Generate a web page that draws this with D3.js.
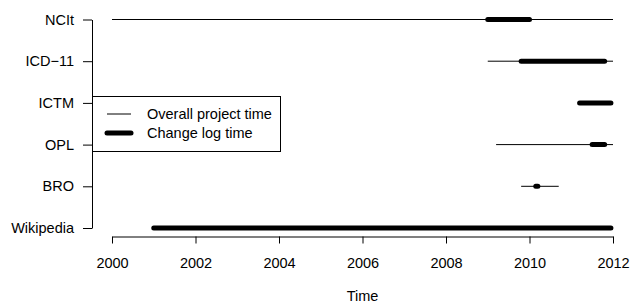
<!DOCTYPE html>
<html>
<head>
<meta charset="utf-8">
<script src="https://cdn.jsdelivr.net/npm/d3@7"></script>
<style>
  body { margin: 0; background: #fff; }
  svg { display: block; font-family: 'Liberation Sans', Arial, sans-serif; }
</style>
</head>
<body>
<svg width="631" height="305"></svg>
<script>
const width = 631
const height = 305
const fontSize = '14.5px'

// categories from top to bottom
const projects = ['NCIt', 'ICD\u221211', 'ICTM', 'OPL', 'BRO', 'Wikipedia']
// overall project time (start, end) in years
const overallStart = [2000, 2009.0, 2011.2, 2009.2, 2009.8, 2001.0]
const overallEnd = [2012, 2012, 2011.95, 2012, 2010.7, 2011.95]
// change log time (start, end)
const changeStart = [2009.0, 2009.8, 2011.2, 2011.5, 2010.15, 2001.0]
const changeEnd = [2010.0, 2011.8, 2011.95, 2011.8, 2010.2, 2011.95]
const xTicks = [2000, 2002, 2004, 2006, 2008, 2010, 2012]

const svg = d3.select('svg')

const x = d3.scaleLinear().domain([2000, 2012]).range([112, 613])
const y = d3.scalePoint().domain(projects).range([19.5, 228])

const rows = projects.map((name, i) => ({
  name,
  o0: overallStart[i],
  o1: overallEnd[i],
  c0: changeStart[i],
  c1: changeEnd[i],
}))

// thin lines: overall project time
svg
  .append('g')
  .selectAll('line')
  .data(rows)
  .enter()
  .append('line')
  .attr('x1', (d) => x(d.o0))
  .attr('x2', (d) => x(d.o1))
  .attr('y1', (d) => y(d.name))
  .attr('y2', (d) => y(d.name))
  .style('stroke', '#000')
  .style('stroke-width', 1)

// thick lines: change log time
svg
  .append('g')
  .selectAll('line')
  .data(rows)
  .enter()
  .append('line')
  .attr('x1', (d) => x(d.c0))
  .attr('x2', (d) => x(d.c1))
  .attr('y1', (d) => y(d.name))
  .attr('y2', (d) => y(d.name))
  .style('stroke', '#000')
  .style('stroke-width', 5)
  .style('stroke-linecap', 'round')

// x axis (R style)
svg
  .append('g')
  .attr('transform', 'translate(0,236.5)')
  .call(d3.axisBottom(x).tickValues(xTicks).tickFormat(d3.format('d')).tickSize(7).tickPadding(14.5).tickSizeOuter(0))
  .call((g) => g.selectAll('text').style('font-size', fontSize).style('fill', '#000'))
  .call((g) => g.selectAll('line, path').style('stroke', '#000'))
  .attr('font-family', null)

// y axis
svg
  .append('g')
  .attr('transform', 'translate(92,0)')
  .call(d3.axisLeft(y).tickSize(9).tickPadding(9).tickSizeOuter(0))
  .call((g) => g.selectAll('text').style('font-size', fontSize).style('fill', '#000'))
  .call((g) => g.selectAll('line, path').style('stroke', '#000'))
  .attr('font-family', null)

svg
  .append('text')
  .attr('x', (x(2000) + x(2012)) / 2)
  .attr('y', 301)
  .attr('text-anchor', 'middle')
  .style('font-size', fontSize)
  .text('Time')

// legend
const legend = svg.append('g')
legend
  .append('rect')
  .attr('x', 92.5)
  .attr('y', 96.5)
  .attr('width', 188)
  .attr('height', 55)
  .style('fill', '#fff')
  .style('stroke', '#000')
  .style('stroke-width', 1)

const legendItems = [
  { label: 'Overall project time', w: 1, cap: 'butt' },
  { label: 'Change log time', w: 5, cap: 'round' },
]
legendItems.forEach((item, i) => {
  const ly = 114 + i * 19
  legend
    .append('line')
    .attr('x1', 107)
    .attr('x2', 131)
    .attr('y1', ly)
    .attr('y2', ly)
    .style('stroke', '#000')
    .style('stroke-width', item.w)
    .style('stroke-linecap', item.cap)
  legend
    .append('text')
    .attr('x', 147)
    .attr('y', ly)
    .attr('dy', '0.35em')
    .style('font-size', fontSize)
    .text(item.label)
})
</script>
</body>
</html>
